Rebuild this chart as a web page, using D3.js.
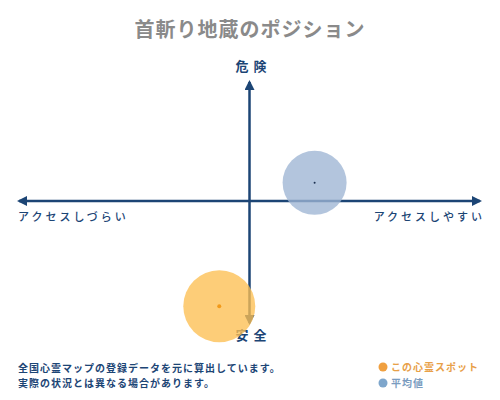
<!DOCTYPE html>
<html>
<head>
<meta charset="utf-8">
<script src="https://cdn.jsdelivr.net/npm/d3@7"></script>
<style>
  body { margin: 0; background: #fff; }
  text { font-family: "Noto Sans CJK JP", sans-serif; }
</style>
</head>
<body>
<svg id="position-svg" width="500" height="400"></svg>
<script>
// values (axis range -1..1)
let series_names = ["この心霊スポット", "平均値"];
let series_x = [-0.13, 0.28];
let series_y = [-0.87, 0.15];
let axis_labels = ["危険", "安全", "アクセスしづらい", "アクセスしやすい"];
let notes = ["全国心霊マップの登録データを元に算出しています。", "実際の状況とは異なる場合があります。"];

let svg = d3.select("#position-svg");
let navy = "#1c4575";

let x = d3.scaleLinear().domain([-1, 1]).range([17, 482]);
let y = d3.scaleLinear().domain([-1, 1]).range([322, 80]);

svg.append("text")
  .attr("x", 250).attr("y", 37)
  .attr("text-anchor", "middle")
  .attr("font-size", 20)
  .attr("font-weight", "bold")
  .attr("fill", "#8a8a8a")
  .attr("letter-spacing", 1)
  .text("首斬り地蔵のポジション");

// arrow heads
let defs = svg.append("defs");
defs.append("marker")
  .attr("id", "arrow")
  .attr("viewBox", "0 0 10 10")
  .attr("refX", 8).attr("refY", 5)
  .attr("markerWidth", 4).attr("markerHeight", 4)
  .attr("orient", "auto-start-reverse")
  .append("path")
  .attr("d", "M0,0 L10,5 L0,10 z")
  .attr("fill", navy);

svg.append("line")
  .attr("x1", x(-1) + 2).attr("x2", x(1) - 2)
  .attr("y1", y(0)).attr("y2", y(0))
  .attr("stroke", navy).attr("stroke-width", 2.5)
  .attr("marker-start", "url(#arrow)")
  .attr("marker-end", "url(#arrow)");

svg.append("line")
  .attr("x1", x(0)).attr("x2", x(0))
  .attr("y1", y(1) + 2).attr("y2", y(-1) + 1)
  .attr("stroke", navy).attr("stroke-width", 2.5)
  .attr("marker-start", "url(#arrow)")
  .attr("marker-end", "url(#arrow)");

// axis labels (letter-spacing adds trailing space, so shift by half of it)
svg.append("text")
  .attr("x", x(0) + 4).attr("y", 71)
  .attr("text-anchor", "middle")
  .attr("font-size", 13).attr("font-weight", "bold")
  .attr("letter-spacing", 5)
  .attr("fill", navy)
  .text(axis_labels[0]);

svg.append("text")
  .attr("x", x(0) + 4).attr("y", 340)
  .attr("text-anchor", "middle")
  .attr("font-size", 13).attr("font-weight", "bold")
  .attr("letter-spacing", 5)
  .attr("fill", navy)
  .text(axis_labels[1]);

svg.append("text")
  .attr("x", 18).attr("y", 221)
  .attr("font-size", 11).attr("font-weight", 500)
  .attr("letter-spacing", 3)
  .attr("fill", navy)
  .text(axis_labels[2]);

svg.append("text")
  .attr("x", 485).attr("y", 221)
  .attr("text-anchor", "end")
  .attr("font-size", 11).attr("font-weight", 500)
  .attr("letter-spacing", 3)
  .attr("fill", navy)
  .text(axis_labels[3]);

// bubbles
let bubble_fill = ["#fdbf52", "#9db5d3"];
let bubble_r = [36, 32];
let dot_fill = ["#f29a1a", "#1c3050"];

let bubble = svg.selectAll(".bubble")
  .data(series_names)
  .enter()
  .append("g")
  .attr("class", "bubble");

bubble.append("circle")
  .attr("cx", function (d, i) { return x(series_x[i]); })
  .attr("cy", function (d, i) { return y(series_y[i]); })
  .attr("r", function (d, i) { return bubble_r[i]; })
  .attr("fill", function (d, i) { return bubble_fill[i]; })
  .attr("opacity", 0.78);

bubble.append("circle")
  .attr("cx", function (d, i) { return x(series_x[i]); })
  .attr("cy", function (d, i) { return y(series_y[i]); })
  .attr("r", function (d, i) { return i == 0 ? 2 : 1; })
  .attr("fill", function (d, i) { return dot_fill[i]; });

// footer notes
svg.selectAll(".note")
  .data(notes)
  .enter()
  .append("text")
  .attr("class", "note")
  .attr("x", 18)
  .attr("y", function (d, i) { return 372 + i * 15; })
  .attr("font-size", 10).attr("font-weight", "bold")
  .attr("letter-spacing", 1)
  .attr("fill", navy)
  .text(function (d) { return d; });

// legend
let legend_dot = ["#f0a040", "#7ea6cc"];
let legend_text = ["#e8a048", "#7a9cc0"];
let legend = svg.selectAll(".legend")
  .data(series_names)
  .enter()
  .append("g")
  .attr("class", "legend")
  .attr("transform", function (d, i) { return "translate(383," + (367 + i * 16) + ")"; });

legend.append("circle")
  .attr("r", 4.5)
  .attr("fill", function (d, i) { return legend_dot[i]; });

legend.append("text")
  .attr("x", 8).attr("y", 4)
  .attr("font-size", 10).attr("font-weight", "bold")
  .attr("letter-spacing", 1)
  .attr("fill", function (d, i) { return legend_text[i]; })
  .text(function (d) { return d; });
</script>
</body>
</html>
